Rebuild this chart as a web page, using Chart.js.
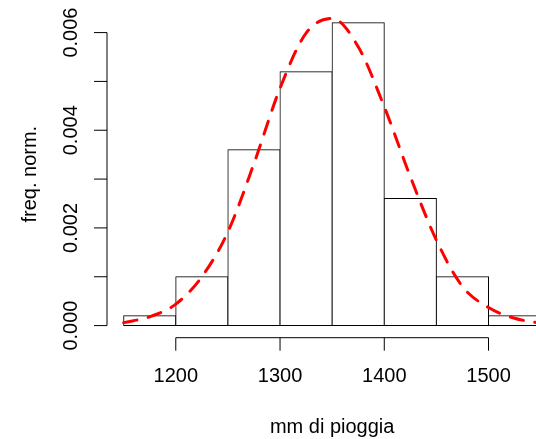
<!DOCTYPE html>
<html>
<head>
<meta charset="utf-8">
<script src="https://cdn.jsdelivr.net/npm/chart.js@4"></script>
<style>
  html, body { margin: 0; padding: 0; background: #fff; overflow: hidden; }
  #wrap { width: 536px; height: 439px; overflow: hidden; }
  canvas { display: block; }
</style>
</head>
<body>
<div id="wrap"><canvas id="chart" width="600" height="439"></canvas></div>
<script>
// histogram bins (mid points, width 50) and densities
const binMids = [1175, 1225, 1275, 1325, 1375, 1425, 1475, 1525];
const density = [0.0002, 0.001, 0.0036, 0.0052, 0.0062, 0.0026, 0.001, 0.0002];

// normal curve
const curveX = [1150, 1175, 1200, 1225, 1250, 1275, 1300, 1325, 1350, 1375, 1400, 1425, 1450, 1475, 1500, 1525, 1550];
const curveY = [0.00006, 0.00018, 0.00044, 0.001, 0.00192, 0.00332, 0.00486, 0.00599, 0.00629, 0.00571, 0.00448, 0.00305, 0.00175, 0.0008, 0.00037, 0.00015, 0.00005];

const xTicks = [1200, 1300, 1400, 1500];
const yTicks = [0, 0.001, 0.002, 0.003, 0.004, 0.005, 0.006];
const yTickLabels = ["0.000", "", "0.002", "", "0.004", "", "0.006"];

const xTitle = "mm di pioggia";
const yTitle = "freq. norm.";

const FONT = '20px "Liberation Sans", Arial, sans-serif';

const rAxes = {
  id: "rAxes",
  afterDraw(chart) {
    const ctx = chart.ctx;
    const xs = chart.scales.x;
    const ys = chart.scales.y;
    const area = chart.chartArea;
    ctx.save();
    ctx.strokeStyle = "#000";
    ctx.fillStyle = "#000";
    ctx.lineWidth = 1;
    ctx.font = FONT;

    // x axis
    const xAxisY = area.bottom;
    const x0 = xs.getPixelForValue(xTicks[0]);
    const x1 = xs.getPixelForValue(xTicks[xTicks.length - 1]);
    ctx.beginPath();
    ctx.moveTo(x0, xAxisY);
    ctx.lineTo(x1, xAxisY);
    xTicks.forEach((t) => {
      const px = xs.getPixelForValue(t);
      ctx.moveTo(px, xAxisY);
      ctx.lineTo(px, xAxisY + 13);
    });
    ctx.stroke();
    ctx.textAlign = "center";
    ctx.textBaseline = "alphabetic";
    xTicks.forEach((t) => {
      ctx.fillText(String(t), xs.getPixelForValue(t), 382);
    });

    // y axis
    const yAxisX = area.left;
    const y0 = ys.getPixelForValue(yTicks[0]);
    const y1 = ys.getPixelForValue(yTicks[yTicks.length - 1]);
    ctx.beginPath();
    ctx.moveTo(yAxisX, y0);
    ctx.lineTo(yAxisX, y1);
    yTicks.forEach((t) => {
      const py = ys.getPixelForValue(t);
      ctx.moveTo(yAxisX, py);
      ctx.lineTo(yAxisX - 13, py);
    });
    ctx.stroke();
    yTicks.forEach((t, i) => {
      if (!yTickLabels[i]) return;
      ctx.save();
      ctx.translate(77, ys.getPixelForValue(t));
      ctx.rotate(-Math.PI / 2);
      ctx.fillText(yTickLabels[i], 0, 0);
      ctx.restore();
    });

    // titles
    const midX = (area.left + area.right) / 2;
    const midY = (area.top + area.bottom) / 2;
    ctx.fillText(xTitle, midX, 433);
    ctx.save();
    ctx.translate(36, midY);
    ctx.rotate(-Math.PI / 2);
    ctx.fillText(yTitle, 0, 0);
    ctx.restore();

    ctx.restore();
  },
};

const chart = new Chart(document.getElementById("chart").getContext("2d"), {
  type: "bar",
  data: {
    datasets: [
      {
        type: "bar",
        data: binMids.map((m, i) => ({ x: m, y: density[i] })),
        backgroundColor: "#ffffff",
        borderColor: "#000000",
        borderWidth: 1,
        borderSkipped: false,
        inflateAmount: 0.5,
        barPercentage: 1,
        categoryPercentage: 1,
        order: 2,
      },
      {
        type: "line",
        data: curveX.map((x, i) => ({ x: x, y: curveY[i] })),
        borderColor: "#ff0000",
        borderWidth: 3,
        borderDash: [13.5, 11.5],
        borderCapStyle: "round",
        cubicInterpolationMode: "monotone",
        pointRadius: 0,
        fill: false,
        clip: false,
        order: 1,
      },
    ],
  },
  options: {
    responsive: false,
    animation: false,
    events: [],
    layout: {
      padding: { left: 107, right: 42.7, top: 10.7, bottom: 101.3 },
    },
    plugins: {
      legend: { display: false },
      tooltip: { enabled: false },
    },
    scales: {
      x: { type: "linear", display: false, min: 1134, max: 1566, offset: false },
      y: { type: "linear", display: false, min: -0.000248, max: 0.006448 },
    },
  },
  plugins: [rAxes],
});
</script>
</body>
</html>
